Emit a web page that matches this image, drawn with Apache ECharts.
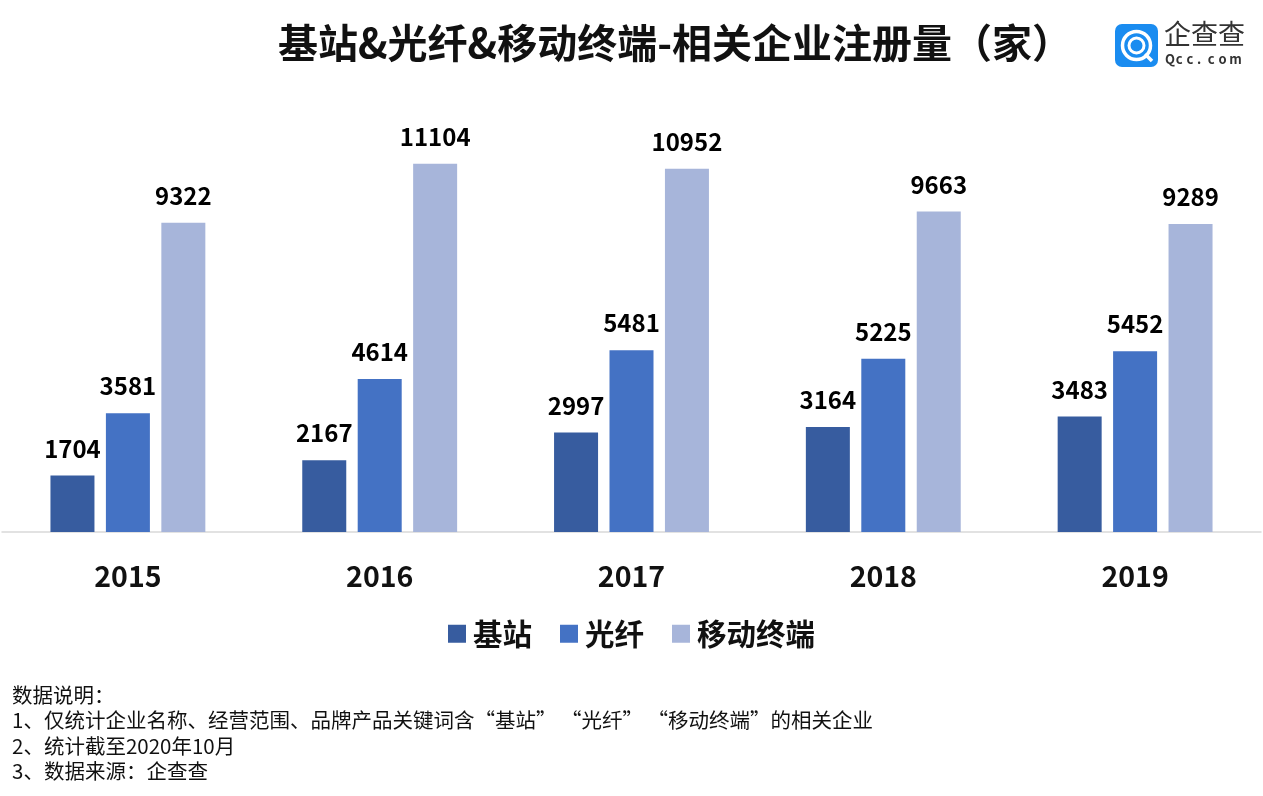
<!DOCTYPE html>
<html><head><meta charset="utf-8">
<script src="https://cdn.jsdelivr.net/npm/echarts@6/dist/echarts.min.js"></script>
<style>html,body{margin:0;padding:0;background:#fff}#c{width:1263px;height:796px}</style>
</head><body><div id="c"></div>
<script>
const years = ['2015','2016','2017','2018','2019'];
const seriesNames = ['基站','光纤','移动终端'];
const jizhan = [1704,2167,2997,3164,3483];
const guangxian = [3581,4614,5481,5225,5452];
const zhongduan = [9322,11104,10952,9663,9289];
const titleText = '基站&光纤&移动终端-相关企业注册量（家）';
const notes = ['数据说明：','1、仅统计企业名称、经营范围、品牌产品关键词含“基站” “光纤” “移动终端”的相关企业','2、统计截至2020年10月','3、数据来源：企查查'];
const colors = ['#375c9f','#4472c4','#a7b5da'];
const F = '"Noto Sans CJK SC","Noto Sans",sans-serif';
const chart = echarts.init(document.getElementById('c'));
const mk = (name, data, i) => ({
  name, type:'bar', data, barWidth:44, barGap:'26%',
  itemStyle:{color:colors[i]},
  label:{show:true, position:'top', distance:15, color:'#000', fontSize:24, fontWeight:'bold', fontFamily:F}
});
const logoChars = 'Qcc.com'.split('');
const logoGraphics = logoChars.map((ch, k) => ({type:'text', x:1165 + k*10.7, y:53, style:{text:ch, fontSize:13, fill:'#333', fontFamily:F, fontWeight:'bold'}}));
chart.setOption({
  animation:false,
  title:{text:titleText, left:670, textAlign:'center', top:18, textStyle:{fontSize:40, fontWeight:'bold', color:'#111', fontFamily:F}},
  legend:{data:seriesNames, left:'center', top:614, itemWidth:18, itemHeight:18, itemGap:28, icon:'rect',
    textStyle:{fontSize:29.5, fontWeight:'bold', color:'#111', fontFamily:F, padding:[0,0,0,2]}},
  grid:{left:2, right:2, top:134, height:398, containLabel:false},
  xAxis:{type:'category', data:years, axisLine:{lineStyle:{color:'#d9d9d9', width:1.5}}, axisTick:{show:false},
    axisLabel:{fontSize:28.5, fontWeight:'bold', color:'#111', margin:30, fontFamily:F}},
  yAxis:{type:'value', min:0, max:12000, show:false, splitLine:{show:false}},
  series:[mk(seriesNames[0],jizhan,0), mk(seriesNames[1],guangxian,1), mk(seriesNames[2],zhongduan,2)],
  graphic:[
    {type:'text', left:12, top:682, style:{text:notes.join('\n'), fontSize:20.5, lineHeight:25.5, fill:'#111', fontFamily:F}},
    {type:'rect', shape:{x:1115, y:24, width:43, height:43, r:7}, style:{fill:'#1a8cf0'}},
    {type:'circle', shape:{cx:1136.5, cy:45.5, r:14}, style:{fill:'none', stroke:'#fff', lineWidth:3.5}},
    {type:'circle', shape:{cx:1136.5, cy:45.5, r:7.5}, style:{fill:'none', stroke:'#fff', lineWidth:3}},
    {type:'line', shape:{x1:1145, y1:54, x2:1152, y2:61}, style:{stroke:'#fff', lineWidth:3.5}},
    {type:'text', left:1164, top:20, style:{text:'企查查', fontSize:27, fill:'#333', fontFamily:F}}
  ].concat(logoGraphics)
});
</script></body></html>
